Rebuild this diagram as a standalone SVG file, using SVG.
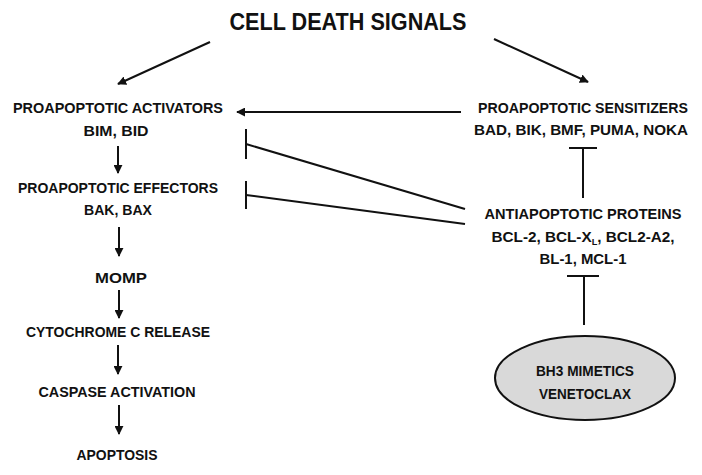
<svg xmlns="http://www.w3.org/2000/svg" width="702" height="475" viewBox="0 0 702 475">
<style>
text{font-family:"Liberation Sans",Arial,sans-serif;font-weight:bold;fill:#111;text-anchor:middle}
.lbl{font-size:15px}
.title{font-size:24px}
.ln{stroke:#111;stroke-width:2;fill:none}
</style>
<defs>
<marker id="ah" viewBox="0 0 10 10" refX="9" refY="5" markerWidth="4.5" markerHeight="4.5" orient="auto" markerUnits="strokeWidth">
<path d="M0,0 L10,5 L0,10 z" fill="#111"/>
</marker>
</defs>
<rect width="702" height="475" fill="#fff"/>
<g id="connectors">
<line class="ln" x1="210" y1="42" x2="118" y2="84" marker-end="url(#ah)"/>
<line class="ln" x1="494" y1="39" x2="588" y2="82" marker-end="url(#ah)"/>
<line class="ln" x1="461" y1="112" x2="237" y2="112" marker-end="url(#ah)"/>
<line class="ln" x1="118" y1="146" x2="118" y2="173" marker-end="url(#ah)"/>
<line class="ln" x1="119" y1="227" x2="119" y2="256" marker-end="url(#ah)"/>
<line class="ln" x1="119" y1="290" x2="119" y2="318" marker-end="url(#ah)"/>
<line class="ln" x1="118" y1="345" x2="118" y2="374" marker-end="url(#ah)"/>
<line class="ln" x1="119" y1="405" x2="119" y2="434" marker-end="url(#ah)"/>
<line class="ln" x1="465" y1="209" x2="246" y2="144"/>
<line class="ln" x1="246" y1="129" x2="246" y2="159"/>
<line class="ln" x1="465" y1="224" x2="246" y2="195"/>
<line class="ln" x1="246" y1="181" x2="246" y2="209"/>
<line class="ln" x1="583" y1="198" x2="583" y2="148"/>
<line class="ln" x1="569" y1="148" x2="597" y2="148"/>
<line class="ln" x1="584" y1="325" x2="584" y2="276"/>
<line class="ln" x1="567" y1="276" x2="599" y2="276"/>
</g>
<g id="title"><text class="title" x="348" y="30" textLength="237" lengthAdjust="spacingAndGlyphs">CELL DEATH SIGNALS</text></g>
<g id="activators">
<text class="lbl" x="118" y="113" textLength="210" lengthAdjust="spacingAndGlyphs">PROAPOPTOTIC ACTIVATORS</text>
<text class="lbl" x="116" y="136" textLength="65" lengthAdjust="spacingAndGlyphs">BIM, BID</text>
</g>
<g id="sensitizers">
<text class="lbl" x="583" y="113" textLength="210" lengthAdjust="spacingAndGlyphs">PROAPOPTOTIC SENSITIZERS</text>
<text class="lbl" x="581" y="135" textLength="214" lengthAdjust="spacingAndGlyphs">BAD, BIK, BMF, PUMA, NOKA</text>
</g>
<g id="effectors">
<text class="lbl" x="118" y="193" textLength="200" lengthAdjust="spacingAndGlyphs">PROAPOPTOTIC EFFECTORS</text>
<text class="lbl" x="118" y="215" textLength="68" lengthAdjust="spacingAndGlyphs">BAK, BAX</text>
</g>
<g id="antiapoptotic">
<text class="lbl" x="583" y="219" textLength="197" lengthAdjust="spacingAndGlyphs">ANTIAPOPTOTIC PROTEINS</text>
<text class="lbl" x="583" y="242" textLength="183" lengthAdjust="spacingAndGlyphs">BCL-2, BCL-X<tspan font-size="9" dy="3">L</tspan><tspan dy="-3">, BCL2-A2,</tspan></text>
<text class="lbl" x="583" y="264" textLength="87" lengthAdjust="spacingAndGlyphs">BL-1, MCL-1</text>
</g>
<g id="momp"><text class="lbl" x="121" y="283" textLength="52" lengthAdjust="spacingAndGlyphs">MOMP</text></g>
<g id="cytochrome"><text class="lbl" x="118" y="337" textLength="184" lengthAdjust="spacingAndGlyphs">CYTOCHROME C RELEASE</text></g>
<g id="caspase"><text class="lbl" x="117" y="397" textLength="157" lengthAdjust="spacingAndGlyphs">CASPASE ACTIVATION</text></g>
<g id="apoptosis"><text class="lbl" x="117" y="460" textLength="81" lengthAdjust="spacingAndGlyphs">APOPTOSIS</text></g>
<g id="bh3">
<ellipse cx="585" cy="378" rx="90" ry="42" fill="#d9d9d9" stroke="#111" stroke-width="2"/>
<text class="lbl" x="585" y="376" textLength="98" lengthAdjust="spacingAndGlyphs">BH3 MIMETICS</text>
<text class="lbl" x="585" y="399" textLength="92" lengthAdjust="spacingAndGlyphs">VENETOCLAX</text>
</g>
</svg>
